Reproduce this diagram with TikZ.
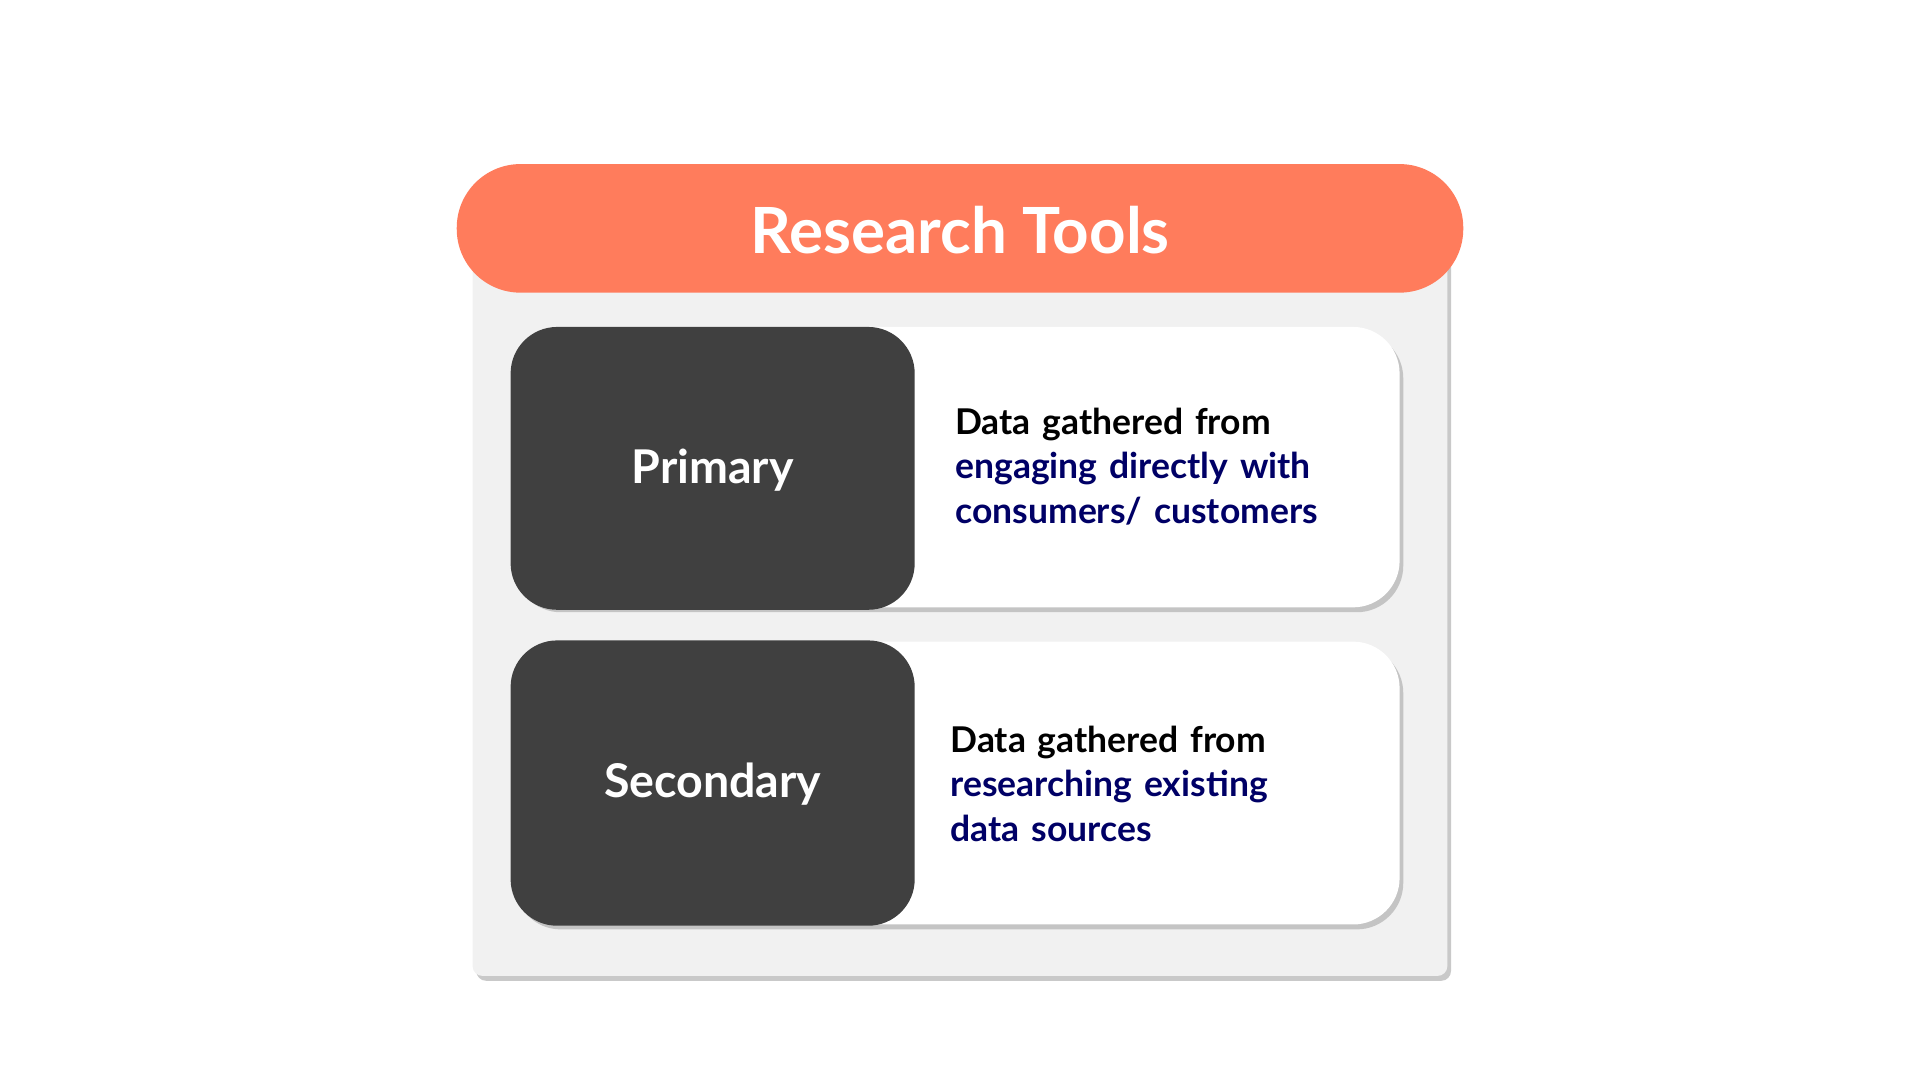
\documentclass[tikz,border=0pt]{standalone}
\usepackage{fontspec}
\setmainfont{Lato}
\usetikzlibrary{shadows}
\definecolor{orng}{HTML}{FF7C5C}
\definecolor{dark}{HTML}{404040}
\definecolor{panel}{HTML}{F1F1F1}
\definecolor{navy}{HTML}{000066}
\begin{document}
\begin{tikzpicture}[x=1pt,y=-1pt,
  shd/.style={drop shadow={shadow xshift=3pt,shadow yshift=-4pt,fill=black!35,opacity=0.6}},
  card/.style={fill=white,rounded corners=38pt,shd},
  tag/.style={fill=dark,rounded corners=38pt},
  body/.style={anchor=west,align=left,font=\bfseries\fontsize{29}{36.5}\selectfont,text width=360pt,inner sep=0pt}]
\useasboundingbox (0,0) rectangle (1568,882);
\fill[white] (0,0) rectangle (1568,882);
\path[fill=panel,rounded corners=8pt,shd] (386,200) rectangle (1182,797);
\path[fill=orng,rounded corners=52pt] (373,134) rectangle (1195,239);
\node[text=white,font=\bfseries\fontsize{52}{60}\selectfont] (title) at (784,188) {Research Tools};
\path[card] (417,267) rectangle (1143,496);
\path[tag] (417,267) rectangle (747,498);
\node[text=white,font=\bfseries\fontsize{38}{44}\selectfont] (p) at (582,384) {Primary};
\node[body] (pt) at (780,381) {Data gathered from\\\textcolor{navy}{engaging directly with}\\\textcolor{navy}{consumers/ customers}};
\path[card] (417,524) rectangle (1143,755);
\path[tag] (417,523) rectangle (747,756);
\node[text=white,font=\bfseries\fontsize{38}{44}\selectfont] (s) at (582,640) {Secondary};
\node[body] (st) at (776,640) {Data gathered from\\\textcolor{navy}{researching existing}\\\textcolor{navy}{data sources}};
\end{tikzpicture}
\end{document}
